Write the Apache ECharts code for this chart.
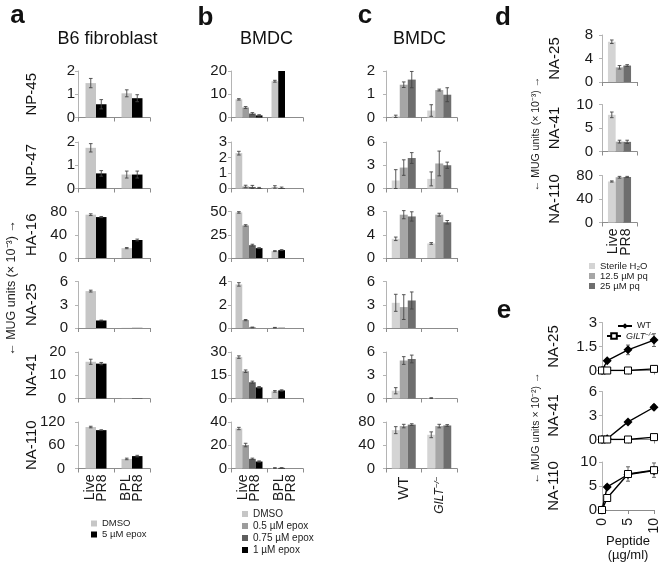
<!DOCTYPE html>
<html>
<head>
<meta charset="utf-8">
<script src="https://cdn.jsdelivr.net/npm/echarts@6/dist/echarts.min.js"></script>
<style>html,body{margin:0;padding:0;background:#fff;}#c{width:663px;height:566px;}</style>
</head>
<body>
<div id="c"></div>
<script>
// ---------------- DATA ----------------
const rowsABC = ['NP-45','NP-47','HA-16','NA-25','NA-41','NA-110'];
const groupsAB = ['Live\nPR8','BPL\nPR8'];
const groupsC = ['WT','GILT'];

// panel a : [Live PR8, BPL PR8] per row
const aYMax  = [2,2,80,6,20,120];
const aYStep = [1,1,40,3,10,60];
const aDMSO    = [[1.48,1.04],[1.75,0.6],[74.5,17],[4.76,0.02],[15.8,0.1],[107,24.7]];
const aDMSOErr = [[0.2,0.15],[0.18,0.15],[1.5,1],[0.12,0],[1.1,0],[2,2]];
const aEpox5    = [[0.57,0.83],[0.65,0.6],[70.4,31],[0.97,0.02],[15,0.1],[99,32]];
const aEpox5Err = [[0.2,0.15],[0.12,0.15],[1,1.5],[0.05,0],[0.5,0],[1,2]];

// panel b
const bYMax  = [20,3,50,4,30,40];
const bYStep = [10,1,25,2,15,20];
const bDMSO      = [[7.8,15.6],[2.28,0.1],[49,7.4],[3.75,0.03],[26.7,4.6],[34.4,0.4]];
const bDMSOErr   = [[0.3,0.4],[0.12,0.08],[0.8,0.5],[0.15,0.02],[0.8,0.5],[1,0.3]];
const bEpox05    = [[4.3,null],[0.13,null],[35,null],[0.68,null],[17.6,null],[20.2,null]];
const bEpox05Err = [[0.4,null],[0.08,null],[0.8,null],[0.05,null],[0.8,null],[1.5,null]];
const bEpox075    = [[1.7,null],[0.1,null],[13.8,null],[0.05,null],[10.5,null],[8.3,null]];
const bEpox075Err = [[0.4,null],[0.1,null],[1,null],[0.03,null],[0.7,null],[0.6,null]];
const bEpox1    = [[0.9,20],[0.02,0.03],[10.6,8.5],[0,0.02],[7.2,5.2],[6,0.5]];
const bEpox1Err = [[0.3,0],[0.05,0.06],[0.5,0.5],[0,0],[0.5,0.4],[0.5,0.2]];

// panel c : [WT, GILT-/-] per row
const cYMax  = [2,6,8,6,6,80];
const cYStep = [1,3,4,3,3,40];
const cH2O      = [[0.05,0.3],[1.03,1.24],[3.3,2.5],[3.25,0],[1.0,0.05],[66,58]];
const cH2OErr   = [[0.05,0.25],[1.4,0.9],[0.3,0.15],[1.1,0],[0.4,0.05],[6,5]];
const cPq125    = [[1.41,1.18],[2.7,3.23],[7.45,7.45],[2.7,0],[4.9,0],[73,73]];
const cPq125Err = [[0.12,0.04],[1,1.6],[0.7,0.25],[1.6,0],[0.5,0],[3,3]];
const cPq25     = [[1.63,0.98],[3.93,3.0],[7.15,6.15],[3.55,0],[5.1,0],[75.5,74]];
const cPq25Err  = [[0.35,0.3],[0.7,0.4],[0.8,0.3],[1.1,0],[0.5,0],[1.5,1.5]];

// panel d
const rowsDE = ['NA-25','NA-41','NA-110'];
const groupsD = ['Live\nPR8'];
const dYMax  = [8,10,80];
const dYStep = [4,5,40];
const dH2O      = [6.85,7.8,69.8];
const dH2OErr   = [0.3,0.6,1];
const dPq125    = [2.5,2.1,77];
const dPq125Err = [0.3,0.3,1.5];
const dPq25     = [2.8,2.05,77.5];
const dPq25Err  = [0.15,0.35,1];

// panel e
const ePeptide = [0,1,5,10];
const eYMax  = [3,6,10];
const eYStep = [1.5,3,5];
const eWT      = [[0,0.61,1.29,1.9],[0,0.1,2.2,4.03],[0,4.8,7.4,8.2]];
const eWTErr   = [[0,0.1,0.3,0.4],[0,0.1,0.2,0.3],[0,0.5,0.6,0.6]];
const eGILT    = [[0,0,0,0.1],[0,0,0,0.3],[0,2.5,7.5,8.3]];
const eGILTErr = [[0,0,0,0.2],[0,0,0,0.2],[0,0.4,1.5,1.5]];

// ---------------- STYLE / LAYOUT ----------------
const FONT = '"Liberation Sans", Arial, Helvetica, sans-serif';
const COL = {light:'#c6c6c6', mid:'#9c9c9c', dark:'#5e5e5e', black:'#000000',
             cLight:'#d4d4d4', cMid:'#a6a6a6', cDark:'#6e6e6e'};
const ROW_TOP = [71,142,211.5,281.5,352,422], ROW_H = 46.5;
const D_TOP = [35,104.5,175.5], D_H = 47;
const E_TOP = [322.5,391.5,462], E_H = 48;

const grid=[], xAxis=[], yAxis=[], series=[], graphic=[];

function txt(x,y,text,fontSize,o){
  o=o||{};
  return {type:'text', x:x, y:y, rotation:o.rot||0, silent:true, z:10,
    style:{text:text, fontSize:fontSize, fontFamily:FONT, fontWeight:o.bold?'bold':'normal',
      fontStyle:o.italic?'italic':'normal', fill:o.color||'#111',
      textAlign:'center', textVerticalAlign:'middle', align:'center', verticalAlign:'middle'}};
}

function yAx(gi, max, step, margin){
  return {type:'value', gridIndex:gi, min:0, max:max, interval:step,
    axisLine:{show:true, lineStyle:{color:'#b4b4b4', width:1}},
    axisTick:{show:true, length:3, lineStyle:{color:'#b4b4b4'}},
    splitLine:{show:false},
    axisLabel:{fontSize:15, color:'#1a1a1a', fontFamily:FONT, margin:margin}};
}

function errRender(n, bw){
  return function(params, api){
    const cat=api.value(0), v=api.value(1), e=api.value(2), s=api.value(3);
    if(!(e>0)) return null;
    const p=api.coord([cat,v]);
    const x=p[0]+(s-(n-1)/2)*bw;
    const y1=api.coord([cat,v+e])[1];
    const y2=api.coord([cat,Math.max(0,v-e)])[1];
    const st={stroke:'#454545', lineWidth:0.9};
    return {type:'group', children:[
      {type:'line', shape:{x1:x,y1:y1,x2:x,y2:y2}, style:st},
      {type:'line', shape:{x1:x-1.8,y1:y1,x2:x+1.8,y2:y1}, style:st},
      {type:'line', shape:{x1:x-1.8,y1:y2,x2:x+1.8,y2:y2}, style:st}]};
  };
}

// generic bar row
function barRow(o){
  const gi = grid.length;
  grid.push({left:o.left, top:o.top, width:o.width, height:o.height, containLabel:false, outerBoundsMode:'none'});
  xAxis.push({type:'category', gridIndex:gi, data:o.cats, boundaryGap:true,
    axisLine:{show:true, lineStyle:{color:'#8c8c8c', width:1}},
    axisTick:{show:true, length:4, lineStyle:{color:'#8c8c8c'}},
    axisLabel:Object.assign({show:!!o.showX, rotate:90, fontSize:14, lineHeight:12.5,
      color:'#1a1a1a', fontFamily:FONT, margin:o.xMargin||6, interval:0}, o.xLabel||{})});
  yAxis.push(yAx(gi, o.yMax, o.yStep, o.yMargin));
  const errData=[];
  o.list.forEach((s,si)=>{
    series.push({type:'bar', name:s.name, xAxisIndex:gi, yAxisIndex:gi, data:s.data,
      barWidth:o.bw, barGap:'0%', silent:true, itemStyle:{color:s.color}, z:2});
    s.err.forEach((e,ci)=>{
      const d=s.data[ci]; const v = (d!==null && typeof d==='object') ? d.value : d;
      if(v!==null && v!==undefined && e) errData.push([ci, v, e, si]);
    });
  });
  series.push({type:'custom', xAxisIndex:gi, yAxisIndex:gi, data:errData, silent:true, z:3,
    encode:{x:0,y:1}, clip:false, renderItem:errRender(o.list.length, o.bw)});
  return gi;
}

const gildLabel = {formatter:function(v){return v==='GILT' ? '{i|GILT}{s|−/−}' : v;},
  rich:{i:{fontStyle:'italic', fontSize:12, fontFamily:FONT, color:'#1a1a1a'},
        s:{fontStyle:'italic', fontSize:8, fontFamily:FONT, color:'#1a1a1a', verticalAlign:'top'}}};

const aMargins = [3,3,11,10,12,13];
rowsABC.forEach((r,i)=>{
  const last = i===rowsABC.length-1;
  // panel a
  barRow({left:78, top:ROW_TOP[i], width:72, height:ROW_H, cats:groupsAB, showX:last,
    yMax:aYMax[i], yStep:aYStep[i], yMargin:aMargins[i], bw:10.5,
    list:[{name:'DMSO', color:COL.light, data:aDMSO[i], err:aDMSOErr[i]},
          {name:'5 µM epox', color:COL.black, data:aEpox5[i], err:aEpox5Err[i]}]});
  // panel b (BPL PR8 group has only DMSO and 1 µM bars, drawn side by side)
  barRow({left:231, top:ROW_TOP[i], width:72, height:ROW_H, cats:groupsAB, showX:last,
    yMax:bYMax[i], yStep:bYStep[i], yMargin:4, bw:6.75,
    list:[{name:'DMSO', color:COL.light, data:bDMSO[i], err:bDMSOErr[i]},
          {name:'0.5 µM epox', color:COL.mid,
           data:[bEpox05[i][0], {value:bEpox1[i][1], itemStyle:{color:COL.black}}],
           err:[bEpox05Err[i][0], bEpox1Err[i][1]]},
          {name:'0.75 µM epox', color:COL.dark, data:bEpox075[i], err:bEpox075Err[i]},
          {name:'1 µM epox', color:COL.black, data:[bEpox1[i][0], null], err:[bEpox1Err[i][0], null]}]});
  // panel c
  barRow({left:386, top:ROW_TOP[i], width:71, height:ROW_H, cats:groupsC, showX:last,
    yMax:cYMax[i], yStep:cYStep[i], yMargin:11, bw:8, xMargin:8, xLabel:Object.assign({fontSize:15}, gildLabel),
    list:[{name:'Sterile H₂O', color:COL.cLight, data:cH2O[i], err:cH2OErr[i]},
          {name:'12.5 µM pq', color:COL.cMid, data:cPq125[i], err:cPq125Err[i]},
          {name:'25 µM pq', color:COL.cDark, data:cPq25[i], err:cPq25Err[i]}]});
  graphic.push(txt(31.5, ROW_TOP[i]+ROW_H/2, r, 15, {rot:Math.PI/2}));
});

rowsDE.forEach((r,i)=>{
  const last = i===rowsDE.length-1;
  barRow({left:602, top:D_TOP[i], width:35, height:D_H, cats:groupsD, showX:last,
    yMax:dYMax[i], yStep:dYStep[i], yMargin:9, bw:7.7,
    list:[{name:'Sterile H₂O', color:COL.cLight, data:[dH2O[i]], err:[dH2OErr[i]]},
          {name:'12.5 µM pq', color:COL.cMid, data:[dPq125[i]], err:[dPq125Err[i]]},
          {name:'25 µM pq', color:COL.cDark, data:[dPq25[i]], err:[dPq25Err[i]]}]});
  graphic.push(txt(555, D_TOP[i]+D_H/2, r, 15, {rot:Math.PI/2}));

  // panel e
  const gi = grid.length;
  grid.push({left:602, top:E_TOP[i], width:52, height:E_H, containLabel:false, outerBoundsMode:'none'});
  xAxis.push({type:'value', gridIndex:gi, min:0, max:10, interval:5,
    axisLine:{show:true, onZero:true, lineStyle:{color:'#8c8c8c'}},
    axisTick:{show:true, length:4, lineStyle:{color:'#8c8c8c'}},
    splitLine:{show:false},
    axisLabel:{show:last, rotate:90, fontSize:14, color:'#1a1a1a', fontFamily:FONT, margin:8}});
  yAxis.push(yAx(gi, eYMax[i], eYStep[i], 5));
  const errs=[];
  ePeptide.forEach((x,j)=>{
    if(eWTErr[i][j]) errs.push([x, eWT[i][j], eWTErr[i][j]]);
    if(eGILTErr[i][j]) errs.push([x, eGILT[i][j], eGILTErr[i][j]]);
  });
  series.push({type:'custom', xAxisIndex:gi, yAxisIndex:gi, data:errs, silent:true, z:1, clip:false,
    encode:{x:0,y:1},
    renderItem:function(params, api){
      const x=api.value(0), v=api.value(1), e=api.value(2);
      const p1=api.coord([x,v+e]), p2=api.coord([x,Math.max(0,v-e)]);
      const st={stroke:'#555', lineWidth:0.9};
      return {type:'group', children:[
        {type:'line', shape:{x1:p1[0],y1:p1[1],x2:p2[0],y2:p2[1]}, style:st},
        {type:'line', shape:{x1:p1[0]-2,y1:p1[1],x2:p1[0]+2,y2:p1[1]}, style:st},
        {type:'line', shape:{x1:p2[0]-2,y1:p2[1],x2:p2[0]+2,y2:p2[1]}, style:st}]};
    }});
  series.push({type:'line', name:'WT', xAxisIndex:gi, yAxisIndex:gi, silent:true, z:4,
    data:ePeptide.map((x,j)=>[x, eWT[i][j]]), symbol:'diamond', symbolSize:9,
    itemStyle:{color:'#000'}, lineStyle:{color:'#000', width:1.4}});
  series.push({type:'line', name:'GILT', xAxisIndex:gi, yAxisIndex:gi, silent:true, z:5,
    data:ePeptide.map((x,j)=>[x, eGILT[i][j]]), symbol:'rect', symbolSize:7,
    itemStyle:{color:'#fff', borderColor:'#000', borderWidth:1}, lineStyle:{color:'#000', width:1.4}});
  graphic.push(txt(554, E_TOP[i]+E_H/2, r, 15, {rot:Math.PI/2}));
});

// panel letters & titles
graphic.push(txt(17.5, 16, 'a', 26, {bold:true}));
graphic.push(txt(205.5, 18, 'b', 26, {bold:true}));
graphic.push(txt(365, 16, 'c', 26, {bold:true}));
graphic.push(txt(503, 18, 'd', 26, {bold:true}));
graphic.push(txt(504, 311, 'e', 26, {bold:true}));
graphic.push(txt(107.5, 38.7, 'B6 fibroblast', 18));
graphic.push(txt(266.5, 38.7, 'BMDC', 18));
graphic.push(txt(419.5, 38.7, 'BMDC', 18));
// axis titles
graphic.push(txt(12, 288, '← MUG units (× 10⁻³) →', 12.5, {rot:Math.PI/2, color:'#222'}));
graphic.push(txt(536, 134, '← MUG units (× 10⁻³) →', 10.5, {rot:Math.PI/2, color:'#222'}));
graphic.push(txt(536, 428, '← MUG units × 10⁻²) →', 10.5, {rot:Math.PI/2, color:'#222'}));
graphic.push(txt(628, 541, 'Peptide', 13));
graphic.push(txt(628, 555, '(µg/ml)', 13));

function leg(left, top, names, fs, lh, extra){
  return Object.assign({left:left, top:top, orient:'vertical', icon:'rect', itemWidth:6, itemHeight:6,
    itemGap:0, selectedMode:false, padding:0, data:names,
    textStyle:{fontSize:fs, lineHeight:lh, color:'#222', fontFamily:FONT}}, extra||{});
}
const legend = [
  leg(91, 518, ['DMSO','5 µM epox'], 9.5, 11),
  leg(242, 508, ['DMSO','0.5 µM epox','0.75 µM epox','1 µM epox'], 10, 12),
  leg(589, 261, ['Sterile H₂O','12.5 µM pq','25 µM pq'], 9.5, 10),
  leg(617, 321, ['WT'], 9, 10, {itemWidth:14, itemHeight:7}),
  leg(606, 331, ['GILT'], 9, 10, {itemWidth:14, itemHeight:7,
     formatter:function(n){return '{i|GILT}{s|−/−}';},
     textStyle:{fontSize:9, lineHeight:10, color:'#222', fontFamily:FONT,
       rich:{i:{fontStyle:'italic', fontSize:9, fontFamily:FONT, color:'#222'},
             s:{fontStyle:'italic', fontSize:6, fontFamily:FONT, color:'#222', verticalAlign:'top'}}}})
];
delete legend[3].icon;
delete legend[4].icon;

const chart = echarts.init(document.getElementById('c'), null, {renderer:'canvas'});
chart.setOption({animation:false, backgroundColor:'#fff', grid, xAxis, yAxis, series, legend, graphic,
  tooltip:{show:false}});
</script>
</body>
</html>
